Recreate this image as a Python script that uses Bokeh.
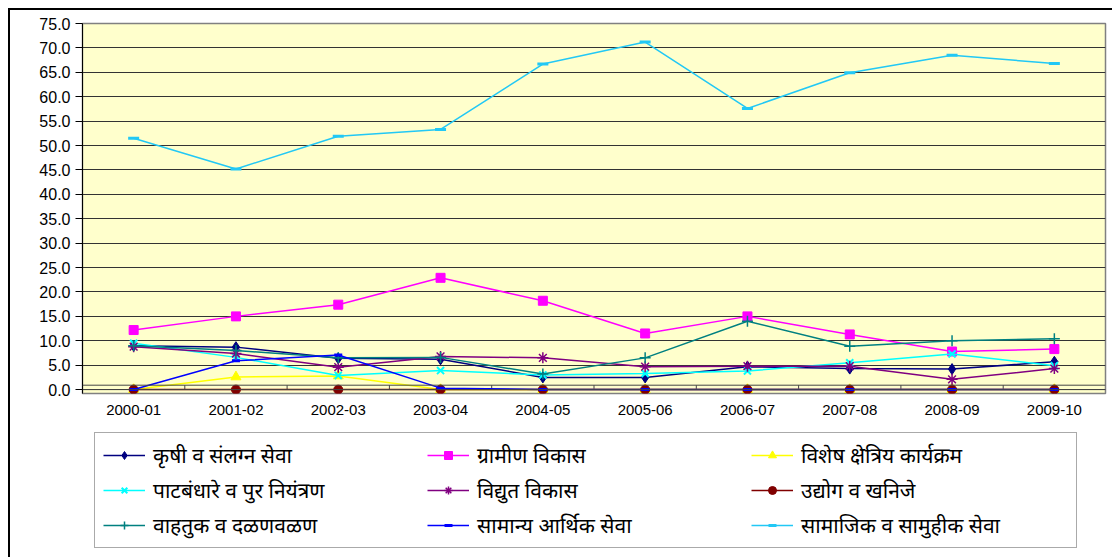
from bokeh.plotting import figure
from bokeh.layouts import column
from bokeh.models import Range1d, Legend, LegendItem, FixedTicker, CustomJSTickFormatter, Span
from bokeh.embed import file_html
from bokeh.resources import INLINE

years = ["2000-01", "2001-02", "2002-03", "2003-04", "2004-05",
         "2005-06", "2006-07", "2007-08", "2008-09", "2009-10"]

krushi = [9.0, 8.7, 6.4, 6.2, 2.5, 2.5, 4.7, 4.3, 4.2, 5.7]
gramin = [12.2, 15.0, 17.4, 22.9, 18.2, 11.5, 15.0, 11.3, 7.8, 8.3]
vishesh = [0.0, 2.6, 2.8, 0.0, 0.0, 0.0, 0.0, 0.0, 0.0, 0.0]
patbandhare = [9.5, 6.6, 2.9, 3.9, 3.0, 3.3, 3.8, 5.5, 7.3, 4.9]
vidyut = [8.8, 7.4, 4.6, 6.8, 6.5, 4.7, 4.8, 4.8, 2.1, 4.3]
udyog = [0.0, 0.0, 0.0, 0.0, 0.0, 0.0, 0.0, 0.0, 0.0, 0.0]
vahatuk = [9.0, 8.0, 6.5, 6.6, 3.2, 6.5, 14.0, 8.9, 10.0, 10.4]
samanya = [0.0, 5.9, 7.1, 0.3, 0.0, 0.0, 0.0, 0.0, 0.0, 0.0]
samajik = [51.5, 45.2, 51.9, 53.3, 66.7, 71.2, 57.6, 64.9, 68.5, 66.8]

series_names = ["कृषी व संलग्न सेवा", "ग्रामीण विकास", "विशेष क्षेत्रिय कार्यक्रम",
                "पाटबंधारे व पुर नियंत्रण", "विद्युत विकास", "उद्योग व खनिजे",
                "वाहतुक व दळणवळण", "सामान्य आर्थिक सेवा", "सामाजिक व सामुहीक सेवा"]
series_values = [krushi, gramin, vishesh, patbandhare, vidyut, udyog, vahatuk, samanya, samajik]
y_ticks = [0, 5, 10, 15, 20, 25, 30, 35, 40, 45, 50, 55, 60, 65, 70, 75]

styles = [
    dict(color="#000080", marker="diamond", size=11, lw=1),
    dict(color="#FF00FF", marker="square", size=9, lw=1),
    dict(color="#FFFF00", marker="triangle", size=10, lw=1),
    dict(color="#00FFFF", marker="x", size=10, lw=2),
    dict(color="#800080", marker="asterisk", size=11, lw=1.5),
    dict(color="#800000", marker="circle", size=9, lw=1),
    dict(color="#008080", marker="cross", size=11, lw=1.5),
    dict(color="#0000FF", marker="dash", size=8, lw=3),
    dict(color="#22C8F5", marker="dash", size=11, lw=3),
]

xs = list(range(len(years)))

# ---------------- main chart ----------------
p = figure(width=1102, height=415, output_backend="svg", toolbar_location=None,
           x_range=Range1d(-0.5, len(years) - 0.5), y_range=Range1d(-0.8, 75),
           min_border_left=72, min_border_right=7, min_border_top=13, min_border_bottom=32)
p.background_fill_color = "#FFFFCC"
p.border_fill_color = "white"
p.outline_line_color = "#808080"
p.outline_line_width = 1.5

p.xgrid.visible = False
p.ygrid.ticker = FixedTicker(ticks=y_ticks)
p.ygrid.grid_line_color = "#333333"
p.ygrid.grid_line_width = 1

p.yaxis.ticker = FixedTicker(ticks=y_ticks)
p.yaxis.formatter = CustomJSTickFormatter(code="return tick.toFixed(1);")
p.yaxis.major_label_text_font = "Liberation Sans"
p.yaxis.major_label_text_font_size = "16px"
p.yaxis.major_label_text_color = "black"
p.yaxis.axis_line_color = "black"
p.yaxis.major_tick_line_color = "black"
p.yaxis.major_tick_out = 7
p.yaxis.major_tick_in = 0
p.yaxis.minor_tick_line_color = None
p.yaxis.major_label_standoff = 5

p.xaxis.ticker = FixedTicker(ticks=xs)
p.xaxis.major_label_overrides = {i: y for i, y in enumerate(years)}
p.xaxis.major_label_text_font = "Liberation Sans"
p.xaxis.major_label_text_font_size = "15px"
p.xaxis.major_label_text_color = "black"
p.xaxis.axis_line_color = None
p.xaxis.major_tick_line_color = None
p.xaxis.minor_tick_line_color = None
p.xaxis.major_label_standoff = 5

# category axis floor band and boundary ticks
p.add_layout(Span(location=0.9, dimension="width", line_color="#444444", line_width=1))
p.add_layout(Span(location=0, dimension="width", line_color="#444444", line_width=1))
bx = [i + 0.5 for i in xs[:-1]]
p.segment(x0=bx, x1=bx, y0=[0] * len(bx), y1=[0.9] * len(bx), line_color="#444444", line_width=1)

for vals, st in zip(series_values, styles):
    p.line(xs, vals, line_color=st["color"], line_width=1.5)
    p.scatter(xs, vals, marker=st["marker"], size=st["size"],
              fill_color=st["color"], line_color=st["color"], line_width=st["lw"])

# ---------------- legend panel ----------------
lg = figure(width=1102, height=132, output_backend="svg", toolbar_location=None,
            x_range=Range1d(100, 101), y_range=Range1d(100, 101),
            x_axis_location=None, y_axis_location=None,
            min_border_left=0, min_border_right=0, min_border_top=0, min_border_bottom=0)
lg.grid.visible = False
lg.outline_line_color = None
lg.background_fill_color = "white"
lg.border_fill_color = "white"

items = []
for name, vals, st in zip(series_names, series_values, styles):
    r1 = lg.line(xs, vals, line_color=st["color"], line_width=1.5)
    r2 = lg.scatter(xs, vals, marker=st["marker"], size=st["size"] - 2,
                    fill_color=st["color"], line_color=st["color"], line_width=st["lw"])
    items.append(LegendItem(label=name, renderers=[r1, r2]))

legend = Legend(items=items, ncols=3, orientation="horizontal",
                label_text_font="Noto Sans", label_text_font_size="21px",
                label_text_color="black",
                glyph_width=42, glyph_height=20, label_standoff=8,
                label_width=267, label_height=20, spacing=7, padding=8,
                border_line_color="#555555", border_line_width=1.5,
                background_fill_color="white", background_fill_alpha=1,
                location=(12, 9), margin=0)
lg.add_layout(legend, "center")

layout = column(p, lg, spacing=0)
layout.styles = {"margin-left": "8px", "margin-top": "8px",
                 "border-top": "2px solid #000", "border-left": "2px solid #000"}

open("out.html", "w").write(file_html(layout, INLINE))
